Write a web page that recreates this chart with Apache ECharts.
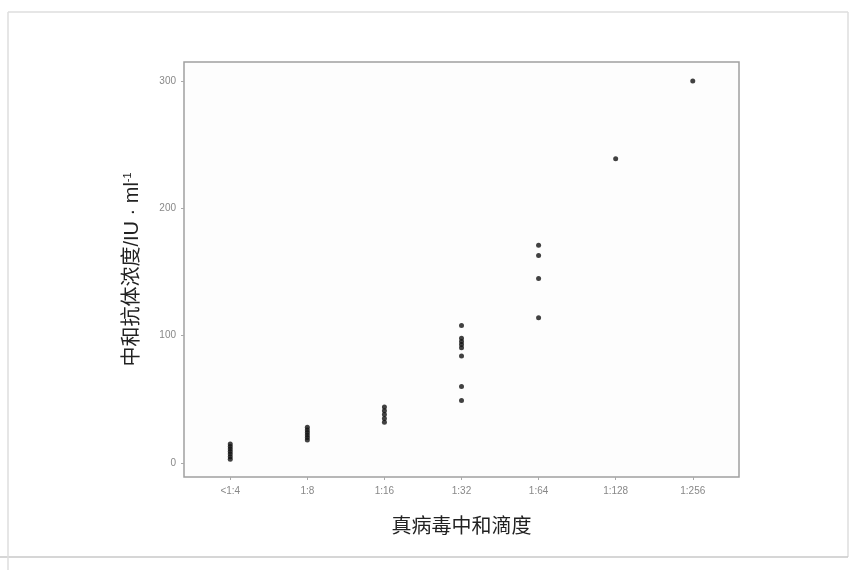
<!DOCTYPE html>
<html>
<head>
<meta charset="utf-8">
<script src="https://cdn.jsdelivr.net/npm/echarts@6/dist/echarts.min.js"></script>
<style>
html,body{margin:0;padding:0;background:#fff;}
#chart{width:856px;height:570px;}
</style>
</head>
<body>
<div id="chart"></div>
<script>
// Categories (virus neutralization titer)
var categories = ['<1:4', '1:8', '1:16', '1:32', '1:64', '1:128', '1:256'];
// Antibody concentration values per category (IU/ml)
var vals_lt4 = [3, 5, 7, 9, 11, 13, 15];
var vals_8 = [18, 20, 22, 24, 26, 28];
var vals_16 = [32, 35, 38, 41, 44];
var vals_32 = [108, 98, 95.5, 93, 90.5, 84, 60, 49];
var vals_64 = [171, 163, 145, 114];
var vals_128 = [239];
var vals_256 = [300];
var yTicks = [0, 100, 200, 300];

var groups = [vals_lt4, vals_8, vals_16, vals_32, vals_64, vals_128, vals_256];
var points = [];
groups.forEach(function (arr, i) {
  arr.forEach(function (v) { points.push([i, v]); });
});
var xTickIdx = categories.map(function (c, i) { return i; });

var font = '"Liberation Sans", "Noto Sans CJK SC", sans-serif';
var chart = echarts.init(document.getElementById('chart'), null, {renderer: 'canvas'});
chart.setOption({
  animation: false,
  backgroundColor: '#ffffff',
  graphic: [
    {type: 'line', shape: {x1: 8, y1: 12, x2: 848, y2: 12}, style: {stroke: '#dedede', lineWidth: 1.5}},
    {type: 'line', shape: {x1: 848, y1: 12, x2: 848, y2: 557}, style: {stroke: '#dedede', lineWidth: 1.5}},
    {type: 'line', shape: {x1: 0, y1: 557, x2: 848, y2: 557}, style: {stroke: '#c8c8c8', lineWidth: 1.5}},
    {type: 'line', shape: {x1: 8, y1: 12, x2: 8, y2: 570}, style: {stroke: '#dedede', lineWidth: 1.5}}
  ],
  grid: {
    left: 184, top: 62, right: 117, bottom: 93,
    show: true, borderColor: '#a0a0a0', borderWidth: 1.5, backgroundColor: '#fdfdfd'
  },
  xAxis: {
    type: 'value', min: -0.6, max: 6.6,
    name: '真病毒中和滴度', nameLocation: 'middle', nameGap: 40,
    nameTextStyle: {fontFamily: font, fontSize: 20, color: '#222'},
    splitLine: {show: false},
    axisLine: {show: false, onZero: false},
    axisTick: {show: true, customValues: xTickIdx, length: 3, lineStyle: {color: '#aaa'}},
    axisLabel: {
      customValues: xTickIdx, margin: 9,
      formatter: function (v) { return categories[Math.round(v)]; },
      fontFamily: font, fontSize: 10, color: '#888'
    }
  },
  yAxis: {
    type: 'value', min: -11, max: 315,
    name: '中和抗体浓度/IU · ml{sup|-1}', nameLocation: 'middle', nameGap: 42, nameRotate: 90,
    nameTextStyle: {
      fontFamily: font, fontSize: 20, color: '#222',
      rich: {sup: {fontSize: 11, verticalAlign: 'top', lineHeight: 11, padding: [0, 0, 9, 0], color: '#222', fontFamily: font}}
    },
    splitLine: {show: false},
    axisLine: {show: false, onZero: false},
    axisTick: {show: true, customValues: yTicks, length: 3, lineStyle: {color: '#aaa'}},
    axisLabel: {customValues: yTicks, margin: 8, fontFamily: font, fontSize: 10, color: '#888'}
  },
  series: [{
    type: 'scatter',
    data: points,
    symbol: 'circle',
    symbolSize: 5,
    itemStyle: {color: '#111'}
  }]
});
</script>
</body>
</html>
